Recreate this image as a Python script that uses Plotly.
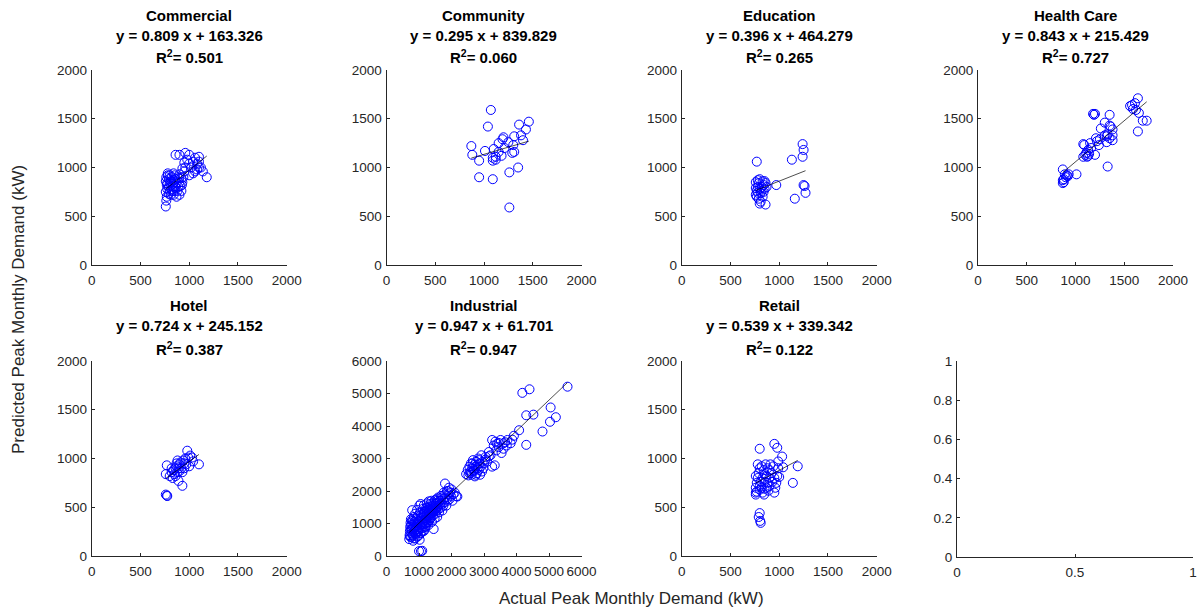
import plotly.graph_objects as go

# ---------------- data ----------------
categories = ["Commercial", "Community", "Education", "Health Care", "Hotel", "Industrial", "Retail"]
slopes = [0.809, 0.295, 0.396, 0.843, 0.724, 0.947, 0.539]
intercepts = [163.326, 839.829, 464.279, 215.429, 245.152, 61.701, 339.342]
r_squared = [0.501, 0.060, 0.265, 0.727, 0.387, 0.947, 0.122]

commercial_actual = [760, 765, 770, 760, 775, 770, 760, 765, 780, 790, 800, 790, 800, 810, 820, 830, 840, 820, 850, 860,
                     870, 860, 850, 840, 880, 890, 900, 880, 900, 920, 930, 910, 940, 950, 870, 900, 920, 840, 800, 780,
                     860, 900, 960, 1000, 980, 1000, 960, 1020, 1040, 1060, 1080, 1100, 1100, 1120, 1080, 1060, 1040,
                     1000, 1180, 1140, 1100, 950, 930, 810, 830, 790, 775, 855, 895, 925]
commercial_pred = [600, 660, 700, 750, 780, 820, 860, 900, 920, 880, 840, 800, 760, 720, 780, 830, 870, 900, 920, 880,
                   840, 800, 760, 720, 760, 800, 850, 900, 930, 890, 850, 810, 900, 960, 700, 720, 760, 940, 920, 940,
                   1130, 1130, 1150, 1130, 1080, 1040, 1000, 1000, 1060, 1100, 1040, 1110, 1060, 1000, 980, 960, 940,
                   920, 900, 960, 1000, 1050, 990, 860, 760, 730, 840, 810, 890, 820]

community_actual = [870, 880, 950, 950, 1010, 1070, 1040, 1090, 1090, 1090, 1100, 1120, 1150, 1190, 1200, 1180,
                    1210, 1260, 1260, 1290, 1310, 1300, 1350, 1360, 1380, 1400, 1430, 1460, 1250, 1310, 1150, 1120]
community_pred = [1220, 1130, 1070, 900, 1170, 1590, 1420, 880, 1100, 1070, 1190, 1110, 1250, 1290, 1310, 1120,
                  1200, 950, 590, 1150, 1320, 1230, 1000, 1440, 1330, 1280, 1390, 1470, 1260, 1160, 1160, 1080]

education_actual = [770, 800, 860, 970, 1130, 1160, 1240, 1250, 1240, 1250, 1260, 1270,
                    760, 770, 780, 790, 800, 810, 820, 830, 840, 850, 760, 780, 770, 790, 810, 830, 800, 820,
                    760, 780, 850, 840, 870, 860]
education_pred = [1060, 630, 620, 820, 1080, 680, 1240, 1180, 1110, 820, 810, 740,
                  720, 760, 800, 840, 780, 740, 800, 860, 820, 780, 850, 870, 700, 680, 650, 700, 880, 760,
                  790, 740, 860, 750, 800, 840]

healthcare_actual = [870, 880, 870, 880, 900, 910, 890, 920, 930, 870, 1010, 1080, 1100, 1110, 1120, 1130, 1140,
                     1090, 1150, 1160, 1130, 1080, 1180, 1200, 1190, 1210, 1220, 1240, 1200, 1250, 1260, 1300,
                     1330, 1350, 1320, 1330, 1350, 1380, 1320, 1350, 1360, 1380, 1300, 1380, 1560, 1580, 1590,
                     1640, 1610, 1620, 1650, 1640, 1690, 1730]
healthcare_pred = [980, 850, 870, 880, 900, 920, 930, 910, 930, 840, 930, 1110, 1130, 1150, 1110, 1180, 1140,
                   1230, 1250, 1200, 1120, 1240, 1550, 1550, 1540, 1300, 1270, 1230, 1130, 1290, 1400, 1460,
                   1010, 1540, 1320, 1340, 1300, 1280, 1260, 1430, 1420, 1330, 1330, 1390, 1630, 1640, 1600,
                   1710, 1660, 1590, 1560, 1370, 1480, 1480]

hotel_actual = [770, 760, 775, 760, 770, 930, 890, 980, 1100, 1030, 1000,
                800, 820, 840, 850, 860, 870, 880, 890, 900, 910, 920, 880, 930, 940, 950, 960, 830, 860,
                900, 970, 990, 1010, 1040, 950, 870, 820]
hotel_pred = [620, 630, 615, 840, 930, 720, 770, 1080, 940, 1010, 920,
              820, 860, 880, 840, 900, 920, 860, 900, 940, 960, 900, 980, 860, 980, 950, 1000, 800, 820,
              870, 940, 1010, 1030, 970, 900, 950, 900]

industrial_actual = [700, 710, 720, 730, 740, 750, 760, 770, 780, 790, 800, 810, 820, 830, 840, 850, 860, 870, 880,
                     890, 900, 910, 920, 930, 940, 950, 960, 970, 980, 990, 1000, 1010, 1020, 1030, 1040, 1050, 1060,
                     1070, 1080, 1090, 1100, 1110, 1120, 1130, 1140, 1150, 1160, 1170, 1180, 1190, 1200, 1210, 1220,
                     1230, 1240, 1250, 1260, 1270, 1280, 1290, 1300, 1310, 1320, 1330, 1340, 1350, 1360, 1370, 1380,
                     1390, 1400, 1410, 1420, 1430, 1440, 1450, 1460, 1470, 1480, 1490, 1500, 1510, 1520, 1530, 1540,
                     1550, 1560, 1570, 1580, 1590, 1600, 1620, 1640, 1660, 1680, 1700, 1720, 1740, 1760, 1780, 1800,
                     1820, 1840, 1860, 1880, 1900, 1920, 1940, 1960, 1980, 2000, 2030, 2060, 2100, 2150, 2180,
                     720, 740, 760, 780, 800, 820, 840, 860, 880, 900, 920, 940, 960, 980, 1000, 1020, 1040, 1060,
                     1080, 1100, 1120, 1140, 1160, 1180, 1200, 1220, 1240, 1260, 1280, 1300, 1320, 1340, 1360, 1400,
                     1440, 1480, 1520, 1560, 1600, 1650, 1700, 1750, 1800, 1850, 1900,
                     2450, 2500, 2520, 2550, 2580, 2600, 2620, 2640, 2660, 2680, 2700, 2720, 2740, 2760, 2780, 2800,
                     2820, 2840, 2860, 2880, 2900, 2920, 2940, 2960, 2980, 3000, 3050, 3100, 3150, 3200, 3250, 2600,
                     2700, 2800, 2750, 2650, 2850, 2550,
                     3250, 3350, 3400, 3450, 3510, 3540, 3600, 3650, 3720, 3820, 3870, 3920, 3330, 3150, 3050, 3300,
                     3450, 3600, 3380, 3700,
                     4080, 4180, 4400, 4300, 4520, 4300, 4800, 5030, 5050, 5210, 5570]
industrial_pred = [520, 640, 760, 900, 1020, 1130, 580, 700, 820, 1410, 960, 1080, 470, 620, 1200, 760, 880, 1000,
                   1300, 540, 680, 1100, 820, 940, 1420, 600, 1230, 760, 1060, 880, 150, 1550, 500, 1340, 960,
                   1600, 150, 720, 1180, 1060, 160, 860, 1450, 1290, 980, 1560, 780, 1120, 1380, 1000, 1250, 900,
                   1480, 1150, 1620, 1300, 1050, 1400, 1200, 950, 1680, 1350, 1100, 1500, 1250, 1600, 1420, 1180,
                   1700, 1320, 1050, 1550, 1450, 1250, 1650, 830, 1380, 1520, 1150, 1720, 1450, 1300, 1600, 1380,
                   1750, 1500, 1200, 1650, 1420, 1800, 1550, 1350, 1700, 1480, 1850, 1600, 1400, 1750, 1950, 1650,
                   2230, 1800, 1550, 2000, 1700, 1900, 2100, 1750, 1950, 1850, 2050, 1700, 1900, 1950, 1840, 1830,
                   600, 820, 950, 1100, 650, 880, 540, 1050, 700, 900, 1150, 750, 1000, 620, 820, 1100, 700, 1250,
                   880, 1000, 760, 1200, 1350, 900, 1100, 1000, 1350, 1500, 1050, 1250, 1450, 1150, 1300, 1400,
                   1350, 1600, 1450, 1700, 1650, 1600, 1800, 1550, 1900, 1750, 2000,
                   2520, 2650, 2480, 2750, 2600, 2850, 2500, 2700, 2950, 2620, 2800, 2450, 2750, 2900, 2550, 2700,
                   3000, 2650, 2850, 2500, 2750, 3100, 2600, 2900, 2700, 2850, 3050, 2900, 3200, 3100, 2750, 2550,
                   2650, 2800, 2500, 2850, 2950, 2550,
                   3570, 3520, 3450, 3350, 3570, 3170, 3470, 3500, 3570, 3470, 3580, 3700, 2790, 3070, 2970, 3400,
                   3480, 3300, 3250, 3400,
                   3870, 5020, 5130, 4330, 4350, 3420, 3830, 4130, 4570, 4270, 5210]

retail_actual = [800, 950, 980, 1140, 1190, 1030, 990, 950, 845, 760, 800, 790, 805, 810,
                 760, 770, 780, 760, 790, 800, 820, 840, 850, 830, 810, 800, 820, 850, 870, 880, 860, 900, 920,
                 900, 880, 870, 900, 930, 950, 960, 980, 990, 940, 780, 770, 760, 800, 830, 850, 890, 910, 1000,
                 1040, 970]
retail_pred = [1100, 1150, 1110, 750, 920, 1020, 970, 650, 630, 650, 440, 400, 360, 340,
               700, 750, 800, 820, 850, 900, 920, 880, 840, 800, 760, 720, 700, 760, 820, 900, 940, 880, 850,
               800, 750, 700, 720, 760, 800, 700, 820, 900, 920, 940, 660, 630, 680, 650, 690, 670, 940, 810,
               910, 750]

actual_series = [commercial_actual, community_actual, education_actual, healthcare_actual,
                 hotel_actual, industrial_actual, retail_actual]
pred_series = [commercial_pred, community_pred, education_pred, healthcare_pred,
               hotel_pred, industrial_pred, retail_pred]

axis_max = [2000, 2000, 2000, 2000, 2000, 6000, 2000]
ticks_2000 = [0, 500, 1000, 1500, 2000]
ticks_6000 = [0, 1000, 2000, 3000, 4000, 5000, 6000]
empty_xticks = [0, 0.5, 1]
empty_xlabels = ["0", "0.5", "1"]
empty_yticks = [0, 0.2, 0.4, 0.6, 0.8, 1]
empty_ylabels = ["0", "0.2", "0.4", "0.6", "0.8", "1"]

# ---------------- layout geometry (pixels) ----------------
W, H = 1202, 613
col_left = [91.7, 386.5, 681.7, 978.0]
box = 195.0
row_top = [70.0, 361.0]

FONT = "Liberation Sans, Arial, Helvetica, sans-serif"
AXC = "#262626"
BLUE = "#0000FF"


def xdom(l, r):
    return [l / W, r / W]


def ydom(t, b):
    return [1 - b / H, 1 - t / H]


fig = go.Figure()
layout = {}


def axis_style(rng, tickvals, ticktext=None, is_x=True):
    d = dict(range=rng, tickmode="array", tickvals=tickvals, tickangle=0, automargin=False,
             showline=True, linecolor=AXC, linewidth=1, mirror=False,
             ticks="inside", ticklen=3, tickcolor=AXC, tickwidth=1,
             showgrid=False, zeroline=False, fixedrange=True,
             ticklabelstandoff=3 if is_x else 1,
             tickfont=dict(family=FONT, size=13.5, color=AXC))
    if ticktext is not None:
        d["ticktext"] = ticktext
    return d


for i, name in enumerate(categories):
    r, c = divmod(i, 4)
    idx = i + 1
    xa = "x" if idx == 1 else f"x{idx}"
    ya = "y" if idx == 1 else f"y{idx}"
    xs = actual_series[i]
    ys = pred_series[i]
    fig.add_trace(go.Scatter(x=xs, y=ys, mode="markers", xaxis=xa, yaxis=ya,
                             marker=dict(symbol="circle-open", size=9, color=BLUE, line=dict(width=1, color=BLUE)),
                             showlegend=False, hoverinfo="skip"))
    x0, x1 = min(xs), max(xs)
    fig.add_trace(go.Scatter(x=[x0, x1], y=[slopes[i] * x0 + intercepts[i], slopes[i] * x1 + intercepts[i]],
                             mode="lines", xaxis=xa, yaxis=ya, line=dict(color="black", width=0.7),
                             showlegend=False, hoverinfo="skip"))
    ticks = ticks_6000 if axis_max[i] == 6000 else ticks_2000
    l = col_left[c]
    t = row_top[r]
    xd = axis_style([0, axis_max[i]], ticks, is_x=True)
    xd.update(domain=xdom(l, l + box), anchor=ya)
    yd = axis_style([0, axis_max[i]], ticks, is_x=False)
    yd.update(domain=ydom(t, t + box), anchor=xa)
    layout["xaxis" if idx == 1 else f"xaxis{idx}"] = xd
    layout["yaxis" if idx == 1 else f"yaxis{idx}"] = yd

# empty 8th axes
fig.add_trace(go.Scatter(x=[None], y=[None], xaxis="x8", yaxis="y8", showlegend=False, hoverinfo="skip"))
xd = axis_style([0, 1], empty_xticks, empty_xlabels, is_x=True)
xd.update(domain=xdom(957, 1193), anchor="y8")
yd = axis_style([0, 1], empty_yticks, empty_ylabels, is_x=False)
yd.update(domain=ydom(361, 557), anchor="x8")
layout["xaxis8"] = xd
layout["yaxis8"] = yd

annotations = []
for i, name in enumerate(categories):
    r, c = divmod(i, 4)
    cx = (col_left[c] + box / 2) / W
    t = row_top[r]
    lines = [f"<b>{name}</b>",
             f"<b>y = {slopes[i]:.3f} x + {intercepts[i]:.3f}</b>",
             f"<b>R<sup>2</sup>= {r_squared[i]:.3f}</b>"]
    offs = [55, 35, 13]
    for txt, o in zip(lines, offs):
        annotations.append(dict(text=txt, x=cx, y=1 - (t - o) / H, xref="paper", yref="paper",
                                xanchor="center", yanchor="middle", showarrow=False,
                                font=dict(family=FONT, size=15, color="black")))

annotations.append(dict(text="Actual Peak Monthly Demand (kW)", x=631 / W, y=1 - 598 / H,
                        xref="paper", yref="paper", xanchor="center", yanchor="middle", showarrow=False,
                        font=dict(family=FONT, size=17, color=AXC)))
annotations.append(dict(text="Predicted Peak Monthly Demand (kW)", x=18 / W, y=1 - 310 / H,
                        xref="paper", yref="paper", xanchor="center", yanchor="middle", showarrow=False,
                        textangle=-90, font=dict(family=FONT, size=17, color=AXC)))

fig.update_layout(width=W, height=H, autosize=False, margin=dict(l=0, r=0, t=0, b=0, autoexpand=False),
                  paper_bgcolor="white", plot_bgcolor="white", annotations=annotations, **layout)

fig.write_html("out.html", config={"displayModeBar": False, "staticPlot": True},
               post_script="document.body.style.margin='0';document.body.style.overflow='hidden';")
